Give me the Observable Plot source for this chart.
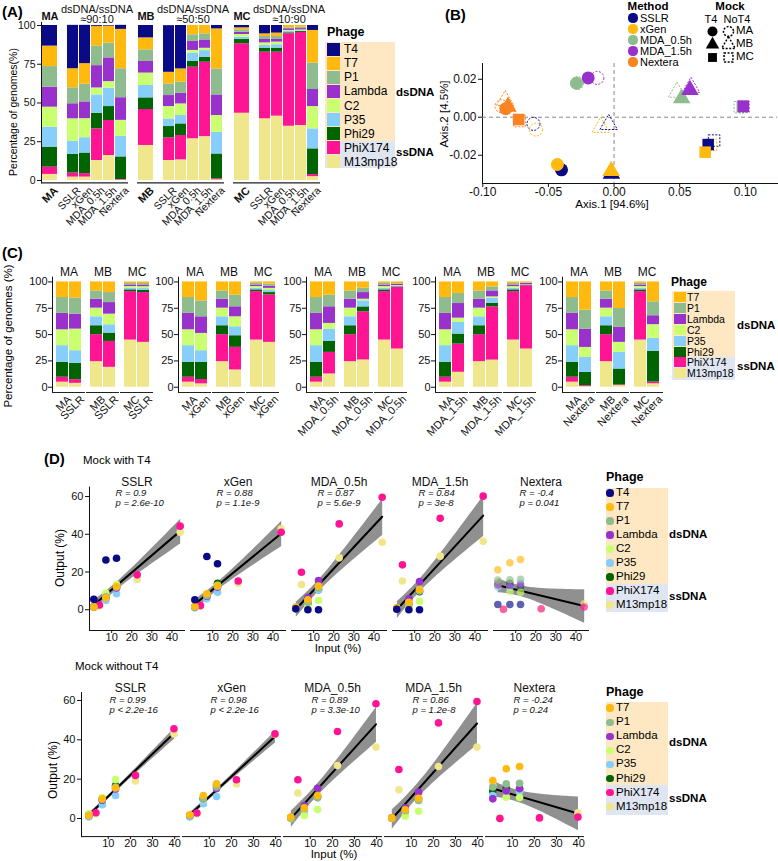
<!DOCTYPE html>
<html><head><meta charset="utf-8">
<script src="https://cdn.jsdelivr.net/npm/d3@7"></script>
<script src="https://cdn.jsdelivr.net/npm/@observablehq/plot@0.6"></script>
<style>
body{margin:0;background:#fff;font-family:"Liberation Sans",Arial,sans-serif;}
#root{position:relative;width:778px;height:861px;overflow:hidden;background:#fff;}
.t{position:absolute;white-space:nowrap;color:#000;line-height:1;}
</style></head><body><div id="root"></div>
<script>
// ---------------- shared categories ----------------
const phages = ["T4","T7","P1","Lambda","C2","P35","Phi29","PhiX174","M13mp18"];
const phagesNoT4 = phages.slice(1);
const phageColors = ["#0a0a86","#ffb90f","#8fbc8f","#9932cc","#caff70","#87cefa","#006400","#ff1493","#f0e68c"];
const groups = ["MA","MB","MC"];
const methods = ["SSLR","xGen","MDA_0.5h","MDA_1.5h","Nextera"];
const methodColors = ["#0a0a86","#ffb90f","#8fbc8f","#9932cc","#fb8320"];

// ---------------- Panel A (with T4), columns in `phages` order ----------------
const samplesA = ["mock", ...methods];
const ratiosA = ["≈90:10","≈50:50","≈10:90"];
const A_MA = [
 [13.3,13.2,13.3,12.9,12.9,12.9,12.9,4.7,3.9],
 [28,12.3,10.3,9.7,14.4,8.6,12,2.6,2.2],
 [24.7,13.3,11.4,10.8,12.3,9.9,13.3,2.2,2.2],
 [0.6,12.7,12.5,14.4,4.5,11.8,10.1,20.4,12.9],
 [0.4,11,9.5,15.3,4.3,11.8,9,22.6,16.1],
 [2.6,25.4,18.7,14.6,10.3,13.3,14.6,0.4,0.2]];
const A_MB = [
 [8,7.7,7.5,7.5,8,8,7.5,23.2,22.6],
 [30.1,7.5,7.5,7.1,8,4.9,7.3,14.6,12.9],
 [28,8.6,7.1,6.9,7.5,5.4,7.5,15.7,13.3],
 [0,6,4.3,5.8,1.7,5.4,3.7,46.2,26.9],
 [0,5.4,3.9,5.4,1.5,4.3,3.2,48,28.3],
 [2.2,25.8,16.8,13.3,10.8,14,16.1,0.6,0.4]];
const A_MC = [
 [1.5,1.3,1.5,1.5,1.7,1.5,2.8,44.8,43.4],
 [5.4,1.7,1.9,2.2,1.7,1.7,2.6,43,39.8],
 [4.9,2.2,1.9,1.7,1.7,2.2,2.6,41.3,41.5],
 [0,1.5,0.6,1.1,0.6,0.9,0.6,59.7,35],
 [0,1.1,0.9,0.9,0.6,0.4,0.6,60,35.5],
 [3.2,21.1,17,11,14.4,12.9,16.6,1.3,2.5]];

// ---------------- Panel B (PCoA) ----------------
const pcMethod = ["SSLR","xGen","MDA_0.5h","MDA_1.5h","Nextera","SSLR","xGen","MDA_0.5h","MDA_1.5h","Nextera","SSLR","xGen","MDA_0.5h","MDA_1.5h","Nextera",
                  "SSLR","xGen","MDA_0.5h","MDA_1.5h","Nextera","SSLR","xGen","MDA_0.5h","MDA_1.5h","Nextera","SSLR","xGen","MDA_0.5h","MDA_1.5h","Nextera"];
const pcMock = ["MA","MA","MA","MA","MA","MB","MB","MB","MB","MB","MC","MC","MC","MC","MC",
                "MA","MA","MA","MA","MA","MB","MB","MB","MB","MB","MC","MC","MC","MC","MC"];
const pcT4 = [...Array(15).fill("T4"), ...Array(15).fill("NoT4")];
const pcX = [-0.040,-0.0432,-0.0286,-0.0197,-0.0825,-0.0020,-0.0022,0.0515,0.0578,-0.0808,0.0717,0.0694,0.0977,0.0985,-0.0727,
             -0.0614,-0.0594,-0.0280,-0.0127,-0.0857,-0.0041,-0.0101,0.0480,0.0586,-0.0829,0.0762,0.0738,0.0958,0.0985,-0.0720];
const pcY = [-0.0277,-0.0249,0.0179,0.0207,0.0045,-0.0298,-0.0283,0.0100,0.0144,0.0056,-0.0144,-0.0184,0.0056,0.0058,-0.0012,
             -0.0035,-0.0065,0.0180,0.0207,0.0058,-0.0038,-0.0053,0.0132,0.0158,0.0088,-0.0123,-0.0146,0.0053,0.0055,-0.0020];

// ---------------- Panel C (without T4), columns in `phagesNoT4` order; rows MA, MB, MC ----------------
const C_mock = [[14.8,15.1,15.5,15.1,15.8,14.2,4.7,4.8],[8.5,7.9,8.5,8.2,8.5,8.5,25.6,24.3],[1.4,1.5,1.5,1.5,1.6,1.7,46,44.8]];
const C_SSLR = [[15.5,15.1,14.2,20.5,12,15.5,3.5,3.7],[10.1,9.5,11,10.1,7.9,7.9,24.6,18.9],[1.5,1.4,1.6,1.8,1.8,2,47.3,42.6]];
const C_xGen = [[18,15.1,15.8,16.4,11,16.4,4.1,3.2],[12.6,11,9.5,9.5,8.5,11,21.5,16.4],[2.1,2,2,2,2,2.2,45.1,42.6]];
const C_MDA05 = [[12.6,11,15.8,5.4,11.7,10.4,20.5,12.6],[6,4.1,6.3,1.6,5.7,4.7,45.7,25.9],[1.6,0.6,1.3,0.6,0.6,0.6,58.4,36.3]];
const C_MDA15 = [[11,9.5,13.9,4.1,11,9.5,26.8,14.2],[4.7,3.8,5.7,1.3,4.7,3.5,50.5,25.8],[0.9,0.6,1.3,0.3,0.3,0.3,60,36.3]];
const C_Nextera = [[26.8,18,17.4,9.5,14.2,12.6,0.9,0.6],[25.2,18,14.2,9.5,15.8,15.1,0.6,1.6],[18.9,13.2,8.5,12.9,12.3,29.3,1.6,3.3]];

// ---------------- Panel D ----------------
const inT4_ds = [12.4, 7.1, 1.1], inT4_ss = [3.9, 22.7, 44.1];
const inNoT4_ds = [13.3, 7.3, 1.2], inNoT4_ss = [4.4, 22.3, 39.7];
const D_T4_SSLR = [[27.3,12.3,12,11.5,13.4,8.5,12,2.5,2],[26.4,6.3,6.8,6.5,8.8,4.9,6.5,18.5,16],[5.5,1.4,1.5,1.5,1.6,1.2,1.5,44.3,41.1]];
const D_T4_xGen = [[24.4,12.6,12.5,12,13,9.3,14,2.2,2],[28.2,8.5,7.5,7.2,8,5.8,7.5,15.2,14],[5.3,1.7,1.5,1.4,1.3,1,1.4,41.1,42.9]];
const D_T4_MDA05 = [[0,12.5,11.5,15.5,4.9,10.6,10.6,19.9,13.4],[0,5.3,4,6.5,1.9,4.2,3.5,45.5,27.5],[0.5,1.4,0.6,1,0.6,0.8,0.6,59.6,35.8]];
const D_T4_MDA15 = [[0,10.7,10,15,4.4,11,9.5,23.8,15.2],[0,4,3,5.8,1.5,4.2,3.2,48.5,28.4],[0.3,1,0.6,0.8,0.5,0.4,0.5,60.2,36.3]];
const D_T4_Nextera = [[2.8,26.6,16.2,13.2,9.2,14,12,0.2,0.3],[2.8,24.9,15.9,13,9.5,11.8,14,0.5,0.4],[2.8,21.2,15.8,13.2,13.6,12,14,1.4,3.2]];
const D_No_SSLR = [[15.5,16,15,19.8,11.7,16.8,2.9,2.5],[10,9.8,9.3,10.5,7,10,21.9,19],[1.5,1.5,1.5,2.4,0.8,1.5,45.6,43]];
const D_No_xGen = [[17.6,16,15.2,16,11.2,17,2.8,2.5],[11.7,10,10,9.5,7.5,10,19.7,17.6],[1.9,1.5,1.5,1.5,0.8,1.5,43,42.7]];
const D_No_MDA05 = [[11.7,10.5,15.4,4.6,10.8,11,19.7,13],[5.4,5,6.5,1.5,3.5,4,44.2,26.9],[0.7,0.3,0.5,0,0.3,0.3,58.3,36.3]];
const D_No_MDA15 = [[10.3,9.2,13.4,3.7,10,10,24.9,14.6],[4.4,4,5.4,1.2,3.3,3.5,48.6,26.4],[0.3,0.2,0.3,0,0.2,0.2,59.5,36.3]];
const D_No_Nextera = [[26.4,17.9,15.2,10.7,13.6,15,0,0.3],[25.3,17.6,14,10.8,13.6,15.4,0.3,0.4],[19.3,16,10,17.2,11.7,14,0.7,2.9]];
const R_T4 = ["0.9","0.88","0.87","0.84","-0.4"];
const P_T4 = ["= 2.6e-10","= 1.1e-9","= 5.6e-9","= 3e-8","= 0.041"];
const R_No = ["0.99","0.98","0.89","0.86","-0.24"];
const P_No = ["< 2.2e-16","< 2.2e-16","= 3.3e-10","= 1.2e-8","= 0.24"];

// ---------------- helpers ----------------
const root = document.getElementById("root");
const FONT = '"Liberation Sans", Arial, sans-serif';
function st(fs){ return {background:"transparent", fontFamily:FONT, fontSize:fs+"px", color:"#111", overflow:"visible"}; }
function put(el, left, top){ el.style.position="absolute"; el.style.left=left+"px"; el.style.top=top+"px"; root.appendChild(el); return el; }
function txt(s, x, y, o={}){
  const d=document.createElement("div"); d.className="t"; d.textContent=s;
  d.style.fontSize=(o.size||12)+"px";
  if(o.bold) d.style.fontWeight="bold";
  if(o.italic) d.style.fontStyle="italic";
  const ax=o.anchor==="middle"?"-50%":o.anchor==="end"?"-100%":"0";
  d.style.left=x+"px"; d.style.top=y+"px";
  d.style.transform=(o.rotate?"translate(-50%,-50%) rotate("+o.rotate+"deg)":"translate("+ax+",-50%)");
  root.appendChild(d); return d;
}
function box(x,y,w,h,bg,round){
  const d=document.createElement("div"); d.style.position="absolute";
  d.style.left=x+"px"; d.style.top=y+"px"; d.style.width=w+"px"; d.style.height=h+"px"; d.style.background=bg;
  if(round) d.style.borderRadius="50%";
  root.appendChild(d); return d;
}
function phageLegend(list, o){
  txt("Phage", o.x, o.titleY, {bold:true, size:o.titleSize||12});
  box(o.bandX, o.dsTop, o.bandW, o.ssTop-o.dsTop, "#fde8c3");
  box(o.bandX, o.ssTop, o.bandW, o.ssBottom-o.ssTop, "#dfe5f1");
  list.forEach((p,i)=>{
    const cy=o.y0+o.step*i, c=phageColors[phages.indexOf(p)];
    if(o.dot) box(o.swX-o.r, cy-o.r, 2*o.r, 2*o.r, c, true);
    else box(o.swX, cy-o.swH/2, o.swW, o.swH, c);
    txt(p, o.labX, cy, {size:o.size});
  });
  txt("dsDNA", o.tagX, o.dsY, {bold:true, size:11.5});
  txt("ssDNA", o.tagX, o.ssY, {bold:true, size:11.5});
}

// ---------------- Panel A ----------------
const rowsA=[];
groups.forEach((g,gi)=>{ const tbl=[A_MA,A_MB,A_MC][gi];
  samplesA.forEach((s,si)=>{ for(let k=phages.length-1;k>=0;k--) rowsA.push({group:g,sample:s,phage:phages[k],value:tbl[si][k]}); });
});
const labA = groups.flatMap(g=>samplesA.map(s=>({group:g,sample:s})));
const yDomA=[-1.5,102];
const plotA = Plot.plot({
  width:325, height:220, marginLeft:40, marginRight:4, marginTop:21.9, marginBottom:37.7,
  style:st(10.5),
  fx:{domain:groups, axis:null, paddingInner:0.093, paddingOuter:0},
  x:{domain:["mock","gap",...methods], axis:null, paddingInner:0.08, paddingOuter:0.15},
  y:{domain:yDomA, ticks:[0,25,50,75,100], tickSize:4, tickPadding:2, label:null, line:true},
  color:{domain:phages, range:phageColors},
  marks:[
    Plot.barY(rowsA.filter(d=>d.sample!=="mock"), {fx:"group", x:"sample", y:"value", fill:"phage"}),
    Plot.barY(rowsA.filter(d=>d.sample==="mock"), {fx:"group", x:"sample", y:"value", fill:"phage", insetLeft:-1, insetRight:-3}),
    Plot.ruleY([yDomA[0]], {stroke:"#222", strokeWidth:1.2}),
    Plot.text(labA.filter(d=>d.sample!=="mock"), {fx:"group", x:"sample", text:"sample", frameAnchor:"bottom", rotate:-45, textAnchor:"end", lineAnchor:"top", dy:3, dx:3, fontSize:10.5}),
    Plot.text(labA.filter(d=>d.sample==="mock"), {fx:"group", x:"sample", text:"group", frameAnchor:"bottom", rotate:-45, textAnchor:"end", lineAnchor:"top", dy:3, dx:4, fontSize:11, fontWeight:"bold"}),
    Plot.text(groups, {fx:d=>d, x:()=>"mock", text:d=>d, frameAnchor:"top", dy:-10, dx:1, fontSize:11, fontWeight:"bold"}),
    Plot.text(groups, {fx:d=>d, x:()=>"MDA_0.5h", text:(d,i)=>"dsDNA/ssDNA\n"+ratiosA[i], frameAnchor:"top", lineAnchor:"bottom", dy:1, fontSize:11, lineHeight:0.95})
  ]
});
put(plotA, 0, 0);
txt("(A)", 2, 11, {bold:true, size:15});
txt("Percentage of genomes(%)", 13, 112, {rotate:-90, size:10.5});
phageLegend(phages, {x:327, titleY:32, bandX:325, bandW:70, dsTop:42, ssTop:141, ssBottom:168,
  y0:49.3, step:14.05, swX:327, swW:13, swH:12.5, labX:344, size:12, tagX:396, dsY:93, ssY:153, titleSize:12.5});

// ---------------- Panel B ----------------
const pcRows = pcX.map((x,i)=>({x, y:pcY[i], method:pcMethod[i], mock:pcMock[i], t4:pcT4[i]}));
const plotB = Plot.plot({
  width:338, height:160, marginLeft:42, marginRight:1, marginTop:8, marginBottom:32,
  style:st(12),
  x:{domain:[-0.1002,0.1245], ticks:[-0.1,-0.05,0,0.05,0.1], tickFormat:d=>d.toFixed(2), tickSize:4, tickPadding:0, label:null, line:true},
  y:{domain:[-0.0349,0.0283], ticks:[-0.02,0,0.02], tickFormat:d=>d.toFixed(2), tickSize:4, tickPadding:2, label:null, line:true},
  color:{domain:methods, range:methodColors},
  symbol:{domain:groups, range:["circle","triangle","square"]},
  marks:[
    Plot.ruleX([0], {stroke:"#888", strokeDasharray:"4,3"}),
    Plot.ruleY([0], {stroke:"#888", strokeDasharray:"4,3"}),
    Plot.dot(pcRows.filter(d=>d.t4==="NoT4"), {x:"x", y:"y", stroke:"method", symbol:"mock", r:6.5, fill:"none", strokeDasharray:"2,1.5", strokeWidth:1}),
    Plot.dot(pcRows.filter(d=>d.t4==="T4"), {x:"x", y:"y", fill:"method", symbol:"mock", r:6.5})
  ]
});
put(plotB, 440, 55);
txt("(B)", 445, 14, {bold:true, size:15});
txt("Axis.1 [94.6%]", 612, 205, {anchor:"middle", size:11.5});
txt("Axis.2 [4.5%]", 445, 114, {rotate:-90, size:11.5});
txt("Method", 648, 6.8, {anchor:"middle", bold:true, size:11.5});
methods.forEach((m,i)=>{ const cy=18+11*i; box(633-4.6, cy-4.6, 9.2, 9.2, methodColors[i], true); txt(m, 640, cy, {size:11}); });
txt("Mock", 730, 6.8, {anchor:"middle", bold:true, size:11.5});
txt("T4", 711, 18.5, {anchor:"middle", size:11});
txt("NoT4", 737, 18.5, {anchor:"middle", size:11});
const mockLegend = Plot.plot({
  width:60, height:66, margin:0, style:st(11),
  x:{type:"point", domain:["T4","NoT4"], range:[22,38], padding:0, axis:null},
  y:{type:"point", domain:groups, range:[30.5,56.5], padding:0, axis:null},
  symbol:{domain:groups, range:["circle","triangle","square"]},
  marks:[
    Plot.dot(groups, {x:()=>"T4", y:d=>d, symbol:d=>d, fill:"black", r:5}),
    Plot.dot(groups, {x:()=>"NoT4", y:d=>d, symbol:d=>d, stroke:"black", fill:"none", strokeDasharray:"2,1.5", r:5})
  ]
});
put(mockLegend, 690, 0);
groups.forEach((g,i)=>txt(g, 736, 30.5+13*i, {size:11.5}));

// ---------------- Panel C ----------------
const C_tables = [C_SSLR, C_xGen, C_MDA05, C_MDA15, C_Nextera];
const cLeft = [21, 147, 275, 404, 531];
const yDomC = [-5, 104.5];
methods.forEach((m,mi)=>{
  const rows=[];
  groups.forEach((g,gi)=>{
    [["mock", C_mock[gi]], [m, C_tables[mi][gi]]].forEach(([s,vals])=>{
      for(let k=phagesNoT4.length-1;k>=0;k--) rows.push({group:g, sample:s, phage:phagesNoT4[k], value:vals[k]});
    });
  });
  const labs = groups.flatMap(g=>[{group:g, sample:"mock", text:g},{group:g, sample:m, text:m}]);
  const p = Plot.plot({
    width:134, height:190, marginLeft:30, marginRight:2, marginTop:26.7, marginBottom:48,
    style:st(11),
    fx:{domain:groups, axis:null, paddingInner:0.04, paddingOuter:0},
    x:{domain:["mock", m], axis:null, paddingInner:0.07, paddingOuter:0.25},
    y:{domain:yDomC, ticks:[0,25,50,75,100], tickSize:4, tickPadding:1, label:null, line:true},
    color:{domain:phages, range:phageColors},
    marks:[
      Plot.barY(rows, {fx:"group", x:"sample", y:"value", fill:"phage"}),
      Plot.ruleY([yDomC[0]], {stroke:"#222"}),
      Plot.text(labs, {fx:"group", x:"sample", text:"text", frameAnchor:"bottom", rotate:-45, textAnchor:"end", lineAnchor:"top", dy:2, dx:4, fontSize:11}),
      Plot.text(groups, {fx:d=>d, text:d=>d, frameAnchor:"top", dy:-10, fontSize:12})
    ]
  });
  put(p, cLeft[mi], 250);
});
txt("(C)", 2, 252, {bold:true, size:15});
txt("Percentage of genomes (%)", 9, 336, {rotate:-90, size:11.5});
phageLegend(phagesNoT4, {x:671, titleY:282, bandX:672, bandW:63, dsTop:291, ssTop:357, ssBottom:380,
  y0:297, step:10.9, swX:674, swW:12, swH:10, labX:687, size:10.5, tagX:737, dsY:326, ssY:367, titleSize:12});

// ---------------- Panel D ----------------
function buildPts(tables, list, inDs, inSs){
  const pts=[];
  methods.forEach((m,mi)=>groups.forEach((g,gi)=>{
    const vals=tables[mi][gi];
    for(let k=list.length-1;k>=0;k--){
      const ss = list[k]==="PhiX174"||list[k]==="M13mp18";
      pts.push({method:m, group:g, phage:list[k], input: ss?inSs[gi]:inDs[gi], output:vals[k]});
    }
  }));
  return pts;
}
const ptsTop = buildPts([D_T4_SSLR,D_T4_xGen,D_T4_MDA05,D_T4_MDA15,D_T4_Nextera], phages, inT4_ds, inT4_ss);
const ptsBot = buildPts([D_No_SSLR,D_No_xGen,D_No_MDA05,D_No_MDA15,D_No_Nextera], phagesNoT4, inNoT4_ds, inNoT4_ss);
function plotD(pts, R, P, o){
  return Plot.plot({
    width:600, height:o.height, marginLeft:o.ml, marginRight:o.mr, marginTop:o.mt, marginBottom:o.mb,
    style:st(11),
    fx:{domain:methods, axis:null, paddingInner:o.pad, paddingOuter:0},
    x:{domain:o.xd, ticks:[10,20,30,40], tickSize:3, tickPadding:0, label:null, line:true},
    y:{domain:o.yd, ticks:[0,20,40,60], tickSize:4, tickPadding:2, label:null, line:true},
    color:{domain:phages, range:phageColors},
    marks:[
      Plot.linearRegressionY(pts, {fx:"method", x:"input", y:"output", stroke:"black", strokeWidth:2, fill:"#8a8a8a", fillOpacity:0.95, ci:0.95, clip:true}),
      Plot.dot(pts, {fx:"method", x:"input", y:"output", fill:"phage", r:3.8, fillOpacity:d=>d.method==="Nextera"?o.nxOp:1}),
      Plot.text(methods, {fx:d=>d, text:d=>d, frameAnchor:"top", dy:o.titleDy, fontSize:12}),
      Plot.text(methods, {fx:d=>d, text:(d,i)=>"R = "+R[i]+"\np "+P[i], frameAnchor:"top-left", lineAnchor:"top", dx:o.rdx, dy:o.rdy, fontSize:9.5, fontStyle:"italic", lineHeight:1.05})
    ]
  });
}
put(plotD(ptsTop, R_T4, P_T4, {height:197, ml:87, mr:10, mt:23.6, mb:30, pad:0.0565, xd:[-1.05,46.25], yd:[-11,65], titleDy:-10, rdx:26, rdy:2, nxOp:0.65}), 0, 463);
put(plotD(ptsBot, R_No, P_No, {height:189, ml:80, mr:17, mt:20.1, mb:24.9, pad:0.0345, xd:[-2.1,42.2], yd:[-9.2,64], titleDy:-9.5, rdx:28, rdy:3, nxOp:1}), 0, 672);
txt("(D)", 44, 458, {bold:true, size:15});
txt("Mock with T4", 83, 461, {size:11.5});
txt("Mock without T4", 75, 667, {size:11.5});
txt("Output (%)", 60, 558, {rotate:-90, size:12});
txt("Output (%)", 53, 770, {rotate:-90, size:12});
txt("Input (%)", 338, 649, {anchor:"middle", size:11.5});
txt("Input (%)", 334, 855, {anchor:"middle", size:11.5});
phageLegend(phages, {x:606, titleY:477, bandX:606, bandW:62, dsTop:488, ssTop:584, ssBottom:612,
  y0:493, step:14, dot:true, r:3.6, swX:610, labX:616, size:11.5, tagX:669, dsY:535, ssY:597, titleSize:12.5});
phageLegend(phagesNoT4, {x:606, titleY:692, bandX:606, bandW:62, dsTop:702, ssTop:785, ssBottom:815,
  y0:708, step:14.1, dot:true, r:3.6, swX:610, labX:616, size:11.5, tagX:669, dsY:743, ssY:799, titleSize:12.5});
</script></body></html>
